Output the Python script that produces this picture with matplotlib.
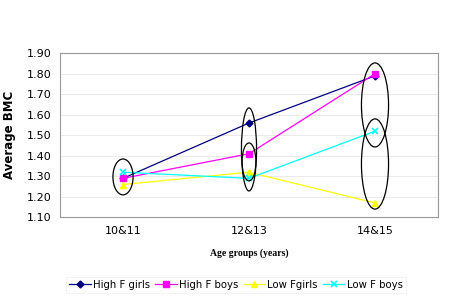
import matplotlib.pyplot as plt
from matplotlib.patches import Ellipse

# data
age_groups = ["10&11", "12&13", "14&15"]
high_f_girls = [1.29, 1.56, 1.79]
high_f_boys = [1.29, 1.41, 1.80]
low_f_girls = [1.26, 1.32, 1.17]
low_f_boys = [1.32, 1.29, 1.52]

# ellipses highlighting groups: (category index, centre value, width, height)
ellipses = [
    (0, 1.297, 0.16, 0.175),
    (1, 1.431, 0.12, 0.405),
    (1, 1.370, 0.11, 0.185),
    (2, 1.648, 0.215, 0.41),
    (2, 1.360, 0.215, 0.44),
]

fig = plt.figure(figsize=(4.72, 2.98), dpi=100)
ax = fig.add_axes([60 / 472, 1 - 217.3 / 298, 378 / 472, 164 / 298])

x = range(len(age_groups))
ax.plot(x, high_f_girls, color="#000080", marker="D", ms=3.5, lw=0.9, label="High F girls")
ax.plot(x, high_f_boys, color="#FF00FF", marker="s", ms=4, lw=0.9, label="High F boys")
ax.plot(x, low_f_girls, color="#FFFF00", marker="^", ms=4.5, lw=0.9, label="Low Fgirls")
ax.plot(x, low_f_boys, color="#00FFFF", marker="x", ms=4.5, mew=1.2, lw=0.9, label="Low F boys")

for cx, cy, w, h in ellipses:
    ax.add_patch(Ellipse((cx, cy), w, h, fill=False, ec="black", lw=0.9, zorder=5))

ax.set_xlim(-0.5, 2.5)
ax.set_ylim(1.10, 1.90)
ax.set_yticks([1.10 + 0.1 * i for i in range(9)])
ax.set_yticklabels([f"{1.10 + 0.1 * i:.2f}" for i in range(9)], fontsize=8)
ax.set_xticks(list(x))
ax.set_xticklabels(age_groups, fontsize=8)
ax.tick_params(length=0, pad=6)
ax.grid(axis="y", color="#e6e6e6", lw=0.6)
ax.set_axisbelow(True)
for s in ax.spines.values():
    s.set_color("#999999")
    s.set_linewidth(0.8)

ax.set_ylabel("Average BMC", fontsize=8.5, fontweight="bold", labelpad=8)
ax.set_xlabel("Age groups (years)", fontsize=7, fontweight="bold",
              family="Liberation Serif", labelpad=9)

leg = fig.legend(loc="center", bbox_to_anchor=(0.5, 1 - 285 / 298), ncol=4,
                 fontsize=7.3, frameon=True, fancybox=False, handlelength=2.1,
                 columnspacing=0.5, handletextpad=0.25, borderpad=0.3)
leg.get_frame().set_edgecolor("#eeeeee")
leg.get_frame().set_linewidth(0.6)

fig.savefig("out.png", dpi=100)
